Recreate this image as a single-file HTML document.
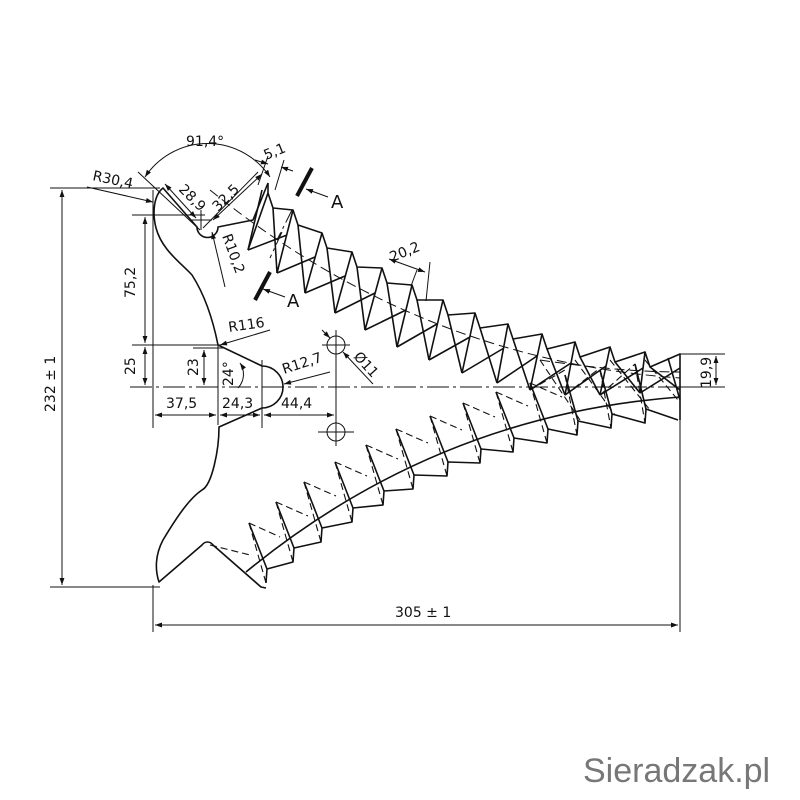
<!DOCTYPE html>
<html><head><meta charset="utf-8"><style>
html,body{margin:0;padding:0;background:#fff;width:800px;height:800px;overflow:hidden}
svg{display:block}
text{font-family:"DejaVu Sans","Liberation Sans",sans-serif;font-size:14px;fill:#111}
</style></head><body>
<svg width="800" height="800" viewBox="0 0 800 800" xmlns="http://www.w3.org/2000/svg">
<defs>
<marker id="ar" viewBox="0 0 10 10" refX="10" refY="5" markerWidth="9" markerHeight="7" orient="auto-start-reverse"><path d="M0,1.5 L10,5 L0,8.5z" fill="#111"/></marker>
</defs>
<g fill="none" stroke="#111" stroke-width="1">
<path d="M130,387 H700" stroke-dasharray="22,4,3,4"/>
<path d="M50,188 H160 M50,587 H160"/>
<path d="M62,190 V585" marker-start="url(#ar)" marker-end="url(#ar)"/>
<path d="M153,585 V632 M680,354 V632"/>
<path d="M155,625 H678" marker-start="url(#ar)" marker-end="url(#ar)"/>
<path d="M132,215 H205 M132,345 H220"/>
<path d="M145,217 V343" marker-start="url(#ar)" marker-end="url(#ar)"/>
<path d="M145,347 V385" marker-start="url(#ar)" marker-end="url(#ar)"/>
<path d="M193,348 H225"/>
<path d="M204,350 V385" marker-start="url(#ar)" marker-end="url(#ar)"/>
<path d="M153,190 V428 M218,345 V425 M262,360 V428 M336,330 V445"/>
<path d="M155,415 H216" marker-start="url(#ar)" marker-end="url(#ar)"/>
<path d="M220,415 H260" marker-start="url(#ar)" marker-end="url(#ar)"/>
<path d="M264,415 H334" marker-start="url(#ar)" marker-end="url(#ar)"/>
<path d="M238,388 A20,20 0 0 0 240,363" marker-end="url(#ar)"/>
<path d="M680,354 H725 M680,387 H725"/>
<path d="M716,356 V385" marker-start="url(#ar)" marker-end="url(#ar)"/>
<circle cx="336" cy="345" r="9"/><circle cx="336" cy="432" r="9"/>
<path d="M322,345 H350 M336,331 V359 M318,432 H354 M336,418 V446"/>
<path d="M322,330 L330,338" marker-end="url(#ar)"/>
<path d="M373,384 L343,352" marker-end="url(#ar)"/>
<path d="M330,372 L284,384" marker-end="url(#ar)"/>
<path d="M270,330 L220,345" marker-end="url(#ar)"/>
<path d="M87,187 L153,202" marker-end="url(#ar)"/>
<path d="M225,287 L212,232" marker-end="url(#ar)"/>
<path d="M145,177 A75,75 0 0 1 270,177" marker-start="url(#ar)" marker-end="url(#ar)"/>
<path d="M138,172 L200,230 M258,172 L203,228 M190,220 H212 M201,210 V230"/>
<path d="M165,184 L196,218" marker-start="url(#ar)" marker-end="url(#ar)"/>
<path d="M213,220 L262,174" marker-start="url(#ar)" marker-end="url(#ar)"/>
<path d="M268,156 L258,185 M284,160 L275,190"/>
<path d="M255,160 L268,164" marker-end="url(#ar)"/><path d="M293,171 L281,167" marker-end="url(#ar)"/>
<path d="M417,270 L411,286 M430,262 L426,301"/>
<path d="M389,259 L425,272" marker-start="url(#ar)" marker-end="url(#ar)"/>
<path d="M210,190 Q420,360 680,378" stroke-dasharray="10,5"/>
<path d="M540,360 Q620,372 680,372" stroke-dasharray="10,5"/>
<path d="M297,196 L312,168 M255,300 L270,272" stroke-width="4"/>
<path d="M292,210 L277,240 M282,232 L270,258" stroke-dasharray="14,4,3,4"/>
<path d="M328,197 L306,189" marker-end="url(#ar)"/>
<path d="M285,297 L263,289" marker-end="url(#ar)"/>
</g>
<g fill="none" stroke="#111" stroke-width="1.6" stroke-linejoin="round">
<path d="M268,183 L253,220 L218,227 A10,10 0 0 1 197,227 L163,188 C154,195 152,212 156,228 C162,250 180,262 192,275 C208,300 215,330 218,345 L262,366 A21,21 0 0 1 262,408 L219,427 C219,450 212,485 202,490 C190,498 178,515 163,540 C155,555 155,570 159,582 L202,545 C205,541 210,541 213,545 L261,587 L266,588"/>
<path d="M268,183 L268,193 L273,208 L293,210 L298,225 L322,233 L327,248 L352,252 L357,267 L382,268 L387,283 L412,285 L417,300 L443,300 L448,315 L475,313 L480,328 L508,324 L513,339 L542,334 L547,349 L575,342 L580,357 L610,347 L615,362 L645,352 L650,367 L680,354 V420"/>
<path d="M268,193L248,250 M293,210L277,273 M322,233L305,293 M352,252L335,313 M382,268L365,330 M412,285L397,347 M443,300L429,360 M475,313L462,373 M508,324L497,383 M542,334L530,390 M575,342L565,395 M610,347L600,395 M645,352L640,393"/>
<path d="M262,190L248,250 M273,208L277,273 M298,225L305,293 M327,248L335,313 M357,267L365,330 M387,283L397,347 M417,300L429,360 M448,315L462,373 M480,328L497,383 M513,339L530,390 M547,349L565,395 M580,357L600,395 M615,362L640,393 M650,367L680,390"/>
<path d="M248,250L287,235 M277,273L315,257 M305,293L345,276 M335,313L375,293 M365,330L406,310 M397,347L437,324 M429,360L470,337 M462,373L504,348 M497,383L537,356 M530,390L571,363 M565,395L606,366 M600,395L643,368 M640,393L680,368"/>
<path d="M249,523L267,569 M276,502L294,548 M304,482L322,528 M335,462L353,508 M366,445L384,491 M396,429L414,475 M430,416L448,462 M463,403L481,449 M496,392L514,438 M530,383L548,429 M565,375L578,421 M600,370L612,414 M635,364L646,409 M668,358L680,400"/>
<path d="M266,583 L267,569 L293,562 L294,548 L321,542 L322,528 L352,522 L353,508 L383,505 L384,491 L413,489 L414,475 L447,476 L448,462 L480,463 L481,449 L513,452 L514,438 L547,443 L548,429 L577,435 L578,421 L611,428 L612,414 L645,423 L646,409 L678,420"/>
<path d="M246,572 Q437,415 680,397"/>
</g>
<g fill="none" stroke="#111" stroke-width="1.1" stroke-dasharray="7,4">
<path d="M210,545 L250,555 M249,523L266,583 M276,502L293,562 M304,482L321,542 M335,462L352,522 M366,445L383,505 M396,429L413,489 M430,416L447,476 M463,403L480,463 M496,392L513,452 M530,383L547,443 M565,375L577,435 M600,370L611,428 M635,364L645,423"/>
<path d="M249,523L280,537 M276,502L308,516 M304,482L336,496 M335,462L367,476 M366,445L398,459 M396,429L428,443 M430,416L462,430 M463,403L495,417 M496,392L528,406 M530,383L562,397"/>
<path d="M540,360 L580,420 M575,360 L615,415 M610,360 L650,410 M645,360 L678,400 M530,390 L565,370 M565,395 L600,368 M600,395 L635,364"/>
</g>
<text x="186" y="146">91,4°</text>
<text transform="translate(266,160) rotate(-22)">5,1</text>
<text transform="translate(92,180) rotate(12)">R30,4</text>
<text transform="translate(178,190) rotate(45)">28,9</text>
<text transform="translate(218,212) rotate(-45)">32,5</text>
<text transform="translate(222,236) rotate(70)">R10,2</text>
<text x="331" y="208" style="font-size:18px">A</text>
<text x="287" y="307" style="font-size:18px">A</text>
<text transform="translate(392,262) rotate(-22)">20,2</text>
<text transform="translate(229,332) rotate(-8)">R116</text>
<text transform="translate(284,374) rotate(-18)">R12,7</text>
<text transform="translate(353,357) rotate(48)">Ø11</text>
<text transform="translate(135,298) rotate(-90)">75,2</text>
<text transform="translate(135,375) rotate(-90)">25</text>
<text transform="translate(198,376) rotate(-90)">23</text>
<text transform="translate(233,386) rotate(-90)">24°</text>
<text x="166" y="408">37,5</text>
<text x="222" y="408">24,3</text>
<text x="281" y="408">44,4</text>
<text transform="translate(711,388) rotate(-90)">19,9</text>
<text transform="translate(55,412) rotate(-90)">232 ± 1</text>
<text x="395" y="617">305 ± 1</text>
<text x="583" y="782" style="font-size:34px;fill:#777;font-family:'Liberation Sans',sans-serif">Sieradzak.pl</text>
</svg>
</body></html>
